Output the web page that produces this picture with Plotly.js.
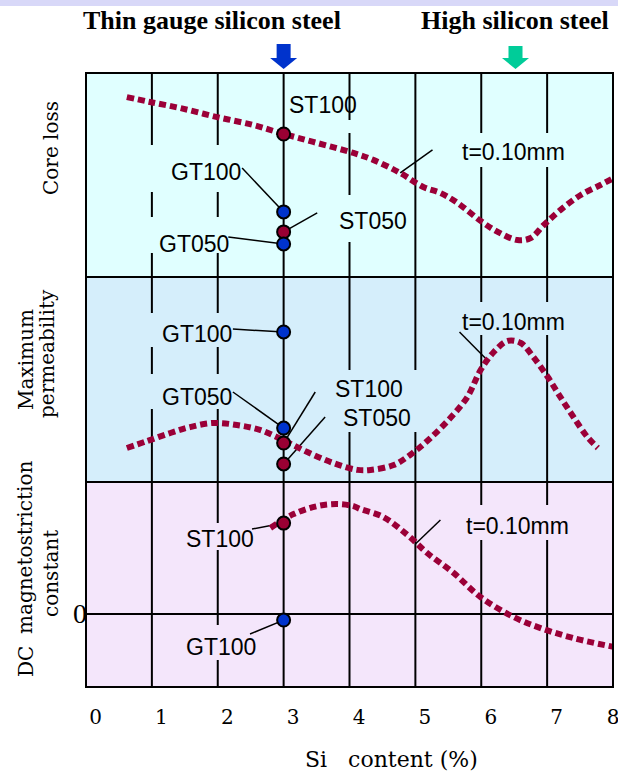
<!DOCTYPE html>
<html>
<head>
<meta charset="utf-8">
<script src="https://cdn.plot.ly/plotly-3.0.1.min.js"></script>
<style>html,body{margin:0;padding:0;background:#fff;}#chart{width:618px;height:777px;}</style>
</head>
<body>
<div id="chart"></div>
<script>
// ---------------- data ----------------
const xTicks = [0, 1, 2, 3, 4, 5, 6, 7, 8];

// Core loss curve, t = 0.10 mm (relative scale 0-100)
const siCoreLoss = [0.62, 0.97, 1.43, 1.99, 2.54, 2.95, 3.45, 4.06, 4.36, 4.77, 5.12, 5.38, 5.64, 5.99, 6.25, 6.55, 6.75, 6.95, 7.20, 7.51, 7.81, 8.01];
const coreLoss   = [88.2, 85.8, 82.8, 78.4, 74.5, 70.6, 66.2, 60.8, 57.4, 51.0, 44.1, 41.2, 36.3, 27.5, 22.1, 18.1, 19.1, 25.5, 32.8, 40.2, 45.1, 48.5];

// Maximum permeability curve, t = 0.10 mm
const siPerm = [0.62, 0.93, 1.28, 1.58, 1.93, 2.29, 2.64, 2.99, 3.36, 3.75, 4.12, 4.32, 4.67, 4.92, 5.23, 5.53, 5.79, 5.99, 6.19, 6.40, 6.60, 6.79, 7.01, 7.20, 7.40, 7.61, 7.77];
const permeability = [16.6, 20.0, 23.9, 26.8, 28.8, 27.8, 25.4, 20.5, 14.6, 9.3, 5.9, 5.9, 8.3, 13.2, 21.5, 31.2, 41.5, 54.6, 63.4, 68.8, 67.8, 61.0, 51.2, 41.5, 31.7, 22.0, 16.6];

// DC magnetostriction constant curve, t = 0.10 mm (0 = zero line)
const siMag = [2.80, 3.15, 3.51, 3.81, 4.06, 4.16, 4.51, 4.88, 5.18, 5.58, 5.99, 6.49, 6.90, 7.40, 8.01];
const magnetostriction = [41.7, 48.5, 52.4, 53.4, 52.4, 51.0, 47.1, 38.3, 29.5, 19.8, 8.0, -1.7, -7.1, -12.0, -16.3];

// Product samples, all at 3 % Si
const sampleSi = 3;
const coreLossLabels = ['ST100', 'GT100', 'ST050', 'GT050'];
const coreLossValues = [70.1, 31.9, 22.1, 16.2];
const permLabels = ['GT100', 'GT050', 'ST100', 'ST050'];
const permValues = [73.2, 26.3, 19.0, 8.8];
const magLabels = ['ST100', 'GT100'];
const magValues = [44.1, -3.2];

// Arrows marking the two steel families
const familyNames = ['Thin gauge silicon steel', 'High silicon steel'];
const familySi = [3, 6.52];

// ---------------- styles ----------------
const RED = '#990033', BLUE = '#0033cc', CURVE = '#9b0038';
const SANS = 'Liberation Sans, Arial, sans-serif';
const SERIF = 'DejaVu Serif, serif';
const TSERIF = 'Liberation Serif, Times New Roman, serif';
const W = 618, H = 777, ML = 86, MR = 5, MT = 73, MB = 90;
const PW = W - ML - MR, PH = H - MT - MB;
const PX = p => (p - ML) / PW;           // page px -> paper x
const PY = p => (H - MB - p) / PH;       // page py -> paper y
const XU = px => px / (PW / 8);          // pixel width -> x units
const NB = '\u00a0';

const colorOf = l => l.startsWith('ST') ? RED : BLUE;

function curve(x, y, ya) {
  return {x, y, yaxis: ya, type: 'scatter', mode: 'lines', hoverinfo: 'skip',
    line: {color: CURVE, width: 6, dash: '7px,4px', shape: 'spline', smoothing: 1}};
}
function samples(labels, vals, ya) {
  return {x: labels.map(() => sampleSi), y: vals, text: labels, yaxis: ya, type: 'scatter', mode: 'markers',
    marker: {size: 13, color: labels.map(colorOf), line: {color: '#000', width: 2}}};
}

const traces = [
  curve(siCoreLoss, coreLoss, 'y3'),
  curve(siPerm, permeability, 'y2'),
  curve(siMag, magnetostriction, 'y'),
];

// ---------------- shapes ----------------
const shapes = [];
const dTop = [PY(277), 1], dMid = [PY(482), PY(277)], dBot = [0, PY(482)];
[[dTop, '#e0ffff'], [dMid, '#d5eefb'], [dBot, '#f4e6fb']].forEach(([d, c]) => shapes.push(
  {type: 'rect', xref: 'paper', yref: 'paper', x0: 0, x1: 1, y0: d[0], y1: d[1], fillcolor: c, line: {width: 0}, layer: 'below'}));
shapes.push({type: 'rect', xref: 'paper', yref: 'paper', x0: PX(0), x1: PX(W), y0: PY(6), y1: PY(0), fillcolor: '#d8d8f8', line: {width: 0}, layer: 'below'});

// vertical grid lines (broken where text boxes sit), page-px y segments
const gridSegs = {
  1: [[73,145],[192,217],[253,313],[347,374],[409,687]],
  2: [[73,145],[192,217],[253,313],[347,374],[409,523],[550,625],[660,687]],
  3: [[73,687]],
  4: [[73,120],[133,195],[242,370],[432,687]],
  5: [[73,370],[432,687]],
  6: [[73,133],[167,302],[335,505],[540,687]],
  7: [[73,133],[167,302],[335,505],[540,687]],
};
Object.keys(gridSegs).forEach(k => gridSegs[k].forEach(s => shapes.push(
  {type: 'line', xref: 'x', yref: 'paper', x0: +k, x1: +k, y0: PY(s[0]), y1: PY(s[1]), line: {color: '#000', width: 2}, layer: 'below'})));

// label definitions: [yaxis, text, x, y, tailX, tailY, endX, endY]
const labels = [
  ['y3', 'ST100', 3.60, 84.3, null],
  ['y3', 'GT100', 1.82, 51.5, 2.37, 53.4, sampleSi, coreLossValues[1]],
  ['y3', 'ST050', 4.35, 27.4, 3.51, 31.4, sampleSi, coreLossValues[2]],
  ['y3', 'GT050', 1.64, 16.2, 2.16, 19.6, sampleSi, coreLossValues[3]],
  ['y3', 't=0.10mm', 6.49, 61.3, 5.26, 62.3, 4.77, 51.0],
  ['y2', 'GT100', 1.69, 72.2, 2.23, 74.6, sampleSi, permValues[0]],
  ['y2', 'GT050', 1.69, 41.4, 2.23, 43.9, sampleSi, permValues[1]],
  ['y2', 'ST100', 4.30, 45.3, 3.48, 43.9, sampleSi, permValues[2]],
  ['y2', 'ST050', 4.41, 31.2, 3.63, 31.7, sampleSi, permValues[3]],
  ['y2', 't=0.10mm', 6.49, 78.0, 5.67, 73.2, 6.06, 60.5],
  ['y', 'ST100', 2.04, 36.3, 2.52, 41.2, sampleSi, magValues[0]],
  ['y', 'GT100', 2.05, -16.4, 2.49, -10.0, sampleSi, magValues[1]],
  ['y', 't=0.10mm', 6.55, 42.7, 5.38, 45.6, 5.0, 33.9],
];
const annotations = [];
labels.forEach(l => {
  annotations.push({xref: 'x', yref: l[0], x: l[2], y: l[3], text: l[1], showarrow: false,
    xanchor: 'center', yanchor: 'middle', font: {family: SANS, size: 23, color: '#000'}});
  if (l[4] !== null && l[4] !== undefined) shapes.push({type: 'line', xref: 'x', yref: l[0],
    x0: l[4], y0: l[5], x1: l[6], y1: l[7], line: {color: '#000', width: 1.5}, layer: 'below'});
});

// panel frame and dividers
shapes.push({type: 'rect', xref: 'paper', yref: 'paper', x0: 0, x1: 1, y0: 0, y1: 1, line: {color: '#000', width: 2}, fillcolor: 'rgba(0,0,0,0)', layer: 'above'});
[PY(277), PY(482)].forEach(y => shapes.push({type: 'line', xref: 'paper', yref: 'paper', x0: 0, x1: 1, y0: y, y1: y, line: {color: '#000', width: 2}, layer: 'above'}));

// family arrows
const arrowColors = [BLUE, '#00cc99'];
familySi.forEach((x, i) => {
  const hs = XU(7), hh = XU(13.5);
  const y0 = PY(44 + (i ? 2 : 0)), ym = PY(58), yt = PY(69);
  shapes.push({type: 'path', xref: 'x', yref: 'paper', layer: 'above', fillcolor: arrowColors[i], line: {width: 0},
    path: `M${x-hs},${y0} L${x+hs},${y0} L${x+hs},${ym} L${x+hh},${ym} L${x},${yt} L${x-hh},${ym} L${x-hs},${ym} Z`});
});

// family titles
[[familyNames[0], 212], [familyNames[1], 515]].forEach(([t, px]) => annotations.push({
  xref: 'paper', yref: 'paper', x: PX(px), y: PY(21), xanchor: 'center', yanchor: 'middle',
  text: '<b>' + t + '</b>', showarrow: false, font: {family: TSERIF, size: 26, color: '#000'}}));

// rotated panel labels
[['Core loss', 51, 148], ['Maximum', 26, 360], ['permeability', 47, 354],
 ['magnetostriction', 25, 548], ['DC', 26, 662], ['constant', 51, 574]].forEach(([t, px, py]) => annotations.push({
  xref: 'paper', yref: 'paper', x: PX(px), y: PY(py), xanchor: 'center', yanchor: 'middle',
  text: t, textangle: -90, showarrow: false, font: {family: SERIF, size: 20, color: '#000'}}));

// x-axis title (placed off-centre as in the reference)
annotations.push({xref: 'paper', yref: 'paper', x: PX(391), y: PY(759), xanchor: 'center', yanchor: 'middle',
  text: 'Si' + NB + NB + NB + 'content (%)', showarrow: false, font: {family: SERIF, size: 22, color: '#000'}});

traces.push(samples(coreLossLabels, coreLossValues, 'y3'));
traces.push(samples(permLabels, permValues, 'y2'));
traces.push(samples(magLabels, magValues, 'y'));

const layout = {
  width: W, height: H, margin: {l: ML, r: MR, t: MT, b: MB},
  paper_bgcolor: '#fff', plot_bgcolor: 'rgba(0,0,0,0)', showlegend: false,
  xaxis: {range: [0, 8], tickvals: xTicks, ticktext: xTicks.map(v => v < 8 ? NB + NB + NB + v : String(v)),
    ticks: '', showgrid: false, zeroline: false, showline: false, ticklabeloverflow: 'allow',
    ticklabelstandoff: 16, tickfont: {family: SERIF, size: 20, color: '#000'}},
  yaxis: {domain: [0, PY(482)], range: [-35.85, 64.15], tickvals: [0], ticktext: ['0'], ticks: '', showgrid: false,
    zeroline: true, zerolinecolor: '#000', zerolinewidth: 2, showline: false, ticklabelstandoff: -2,
    tickfont: {family: TSERIF, size: 28, color: '#000'}},
  yaxis2: {domain: [PY(482), PY(277)], range: [0, 100], showticklabels: false, ticks: '', showgrid: false, zeroline: false},
  yaxis3: {domain: [PY(277), 1], range: [0, 100], showticklabels: false, ticks: '', showgrid: false, zeroline: false},
  shapes, annotations,
};
Plotly.newPlot('chart', traces, layout, {staticPlot: true});
</script>
</body>
</html>
